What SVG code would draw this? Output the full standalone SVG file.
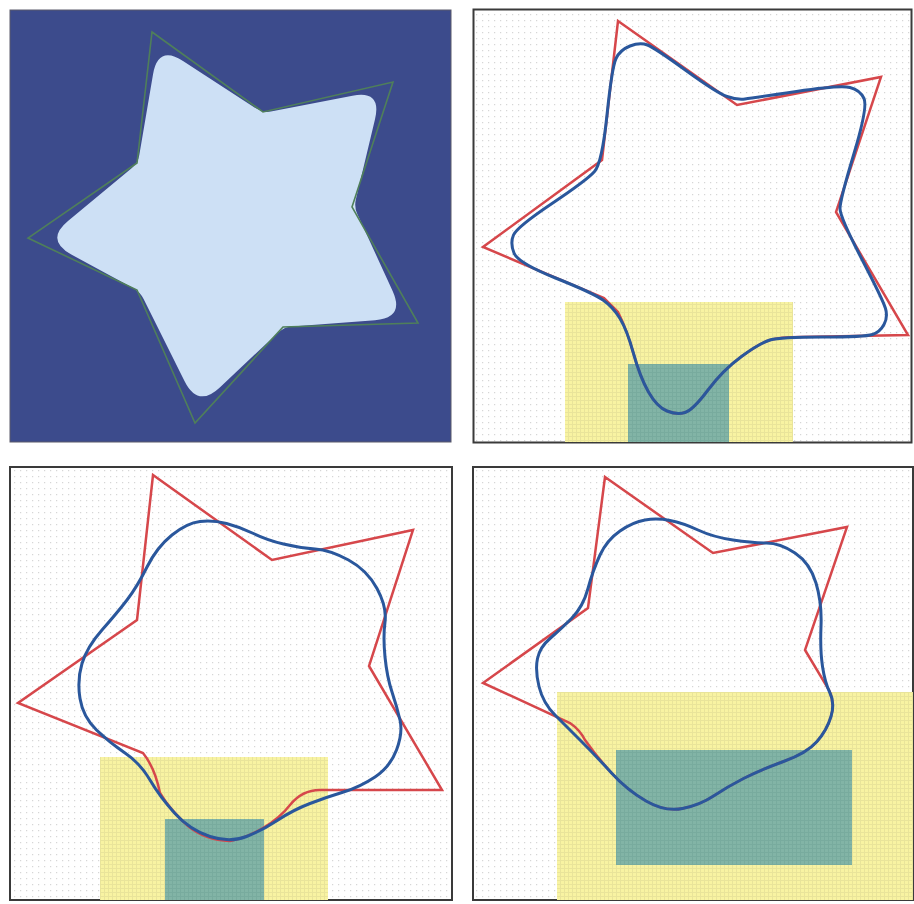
<svg xmlns="http://www.w3.org/2000/svg" width="914" height="904" viewBox="0 0 914 904">
<defs>
<pattern id="dots" width="6" height="6" patternUnits="userSpaceOnUse">
<rect width="6" height="6" fill="#ffffff"/>
<rect x="2" y="2" width="1.2" height="1.2" fill="#d6d6d6"/>
</pattern>
<pattern id="ygrid" width="4" height="4" patternUnits="userSpaceOnUse">
<rect width="4" height="4" fill="#f8f3a2"/>
<path d="M0 0.5H4M0.5 0V4" stroke="#e9e49a" stroke-width="1" fill="none"/>
</pattern>
<pattern id="tgrid" width="4" height="4" patternUnits="userSpaceOnUse">
<rect width="4" height="4" fill="#82b4a6"/>
<path d="M0 0.5H4M0.5 0V4" stroke="#78ab9e" stroke-width="1" fill="none"/>
</pattern>
</defs>
<style>
.frame{fill:url(#dots);stroke:#3a3a3a;stroke-width:2}
.yel{fill:url(#ygrid)}
.teal{fill:url(#tgrid)}
.red{fill:none;stroke:#d6474b;stroke-width:2.5;stroke-linejoin:miter}
.blue{fill:none;stroke:#2a579c;stroke-width:3;stroke-linejoin:round}
</style>
<rect width="914" height="904" fill="#ffffff"/>

<g id="panel1">
<rect x="10" y="10" width="441" height="432" fill="#3c4b8c" stroke="#5a5a6a" stroke-width="1"/>
<path d="M 153,74.5 Q 158,45 183,61 L 256.3,108.6 Q 263,113 270.9,111.5 L 352.5,95.7 Q 382,90 375,119.3 L 355.9,199.2 Q 354,207 357.4,214.3 L 392.5,290.7 Q 405,318 375,320.2 L 292,326.4 Q 284,327 278.2,332.5 L 219.8,387.4 Q 198,408 184.6,381.2 L 143.6,299.1 Q 140,292 133,288.1 L 71.3,254.4 Q 45,240 68,220.9 L 131.9,168.1 Q 138,163 139.3,155.1 Z" fill="#cde0f5"/>
<polygon points="152,32 263,112 393,82 352,207 418,323 283,327 195,423 137,290 28,238 137,163" fill="none" stroke="#4f7f5a" stroke-width="1.6"/>
</g>

<g id="panel2">
<rect class="frame" x="473.5" y="9.5" width="438" height="433"/>
<rect class="yel" x="565" y="302" width="228" height="140"/>
<rect class="teal" x="628" y="364" width="101" height="78"/>
<path class="red" d="M 618,21 L 737,105 L 881,77 L 836,212 L 908,335 L 800,337 Q 780,337 770,340 Q 760,343 741.5,356.5 Q 723,370 708,390 Q 693,410 685,412.5 Q 677,415 667,411 Q 657,407 648.5,392 Q 640,377 633.5,353.5 Q 627,330 618,312 L 604,298 L 483,247 L 602,160 Z"/>
<path class="blue" d="M 607,115 Q 612,67 616,58.5 Q 620,50 630,46 Q 640,42 647.5,45 Q 655,48 686,70.5 Q 717,93 727,96.5 Q 737,100 745,99 Q 753,98 796.5,91.5 Q 840,85 850,87.5 Q 860,90 864,98.5 Q 868,107 854,153.5 Q 840,200 840,208.5 Q 840,217 861.5,258.5 Q 883,300 885.5,308.5 Q 888,317 884,324.5 Q 880,332 872.5,334.5 Q 865,337 822.5,337 Q 780,337 770,340 Q 760,343 741.5,356.5 Q 723,370 708,390 Q 693,410 685,412.5 Q 677,415 667,411 Q 657,407 648.5,392 Q 640,377 633.5,353.5 Q 627,330 620,318.5 Q 613,307 603,300 Q 593,293 555.5,278 Q 518,263 514,253 Q 510,243 513.5,235 Q 517,227 552,203.5 Q 587,180 594.5,171.5 Q 602,163 607,115 Z"/>
</g>

<g id="panel3">
<rect class="frame" x="10" y="467" width="442" height="433"/>
<rect class="yel" x="100" y="757" width="228" height="143"/>
<rect class="teal" x="165" y="819" width="99" height="81"/>
<path class="red" d="M 153,475 L 272,560 L 413,530 L 369,666 L 442,790 L 320,790 Q 302,790 290,805 Q 280,818 263,828 Q 246,838 230,841 Q 205,840 188,826 Q 170,810 160,793 Q 155,768 143,753 L 18,703 L 137,620 Z"/>
<path class="blue" d="M 226.5,523.5 Q 213,520 200,521.5 Q 187,523 172,535 Q 157,547 147,567 Q 137,587 127,600 Q 117,613 102,630 Q 87,647 82,663.5 Q 77,680 80,698.5 Q 83,717 96.5,730 Q 110,743 125,753 Q 140,763 150,780 Q 160,797 175,813.5 Q 190,830 210,836.5 Q 230,843 246.5,836.5 Q 263,830 278,820 Q 293,810 310,803.5 Q 327,797 343.5,792 Q 360,787 375,777 Q 390,767 396.5,750 Q 403,733 400,720 Q 397,707 392,692 Q 387,677 385,657 Q 383,637 385,622 Q 387,607 377,588.5 Q 367,570 348.5,560 Q 330,550 315,549 Q 300,548 283.5,544 Q 267,540 253.5,533.5 Q 240,527 226.5,523.5 Z"/>
</g>

<g id="panel4">
<rect class="frame" x="473" y="467" width="440" height="433"/>
<rect class="yel" x="557" y="692" width="356" height="208"/>
<rect class="teal" x="616" y="750" width="236" height="115"/>
<path class="red" d="M 605,477 L 713,553 L 847,527 L 805,650 L 829,690 Q 835,703 831,716.5 Q 827,730 817,741.5 Q 807,753 783.5,761.5 Q 760,770 743.5,778.5 Q 727,787 713.5,796 Q 700,805 682.5,808.5 Q 665,812 646,801 Q 627,790 612,773.5 Q 597,757 585,740 Q 580,730 570,723 L 483,683 L 588,608 Z"/>
<path class="blue" d="M 670,520.5 Q 657,518 645,520 Q 633,522 620,531 Q 607,540 600,555 Q 593,570 588,588.5 Q 583,607 571.5,618.5 Q 560,630 550,638.5 Q 540,647 537.5,658.5 Q 535,670 539,686.5 Q 543,703 555,715 Q 567,727 582,742 Q 597,757 612,773.5 Q 627,790 646,801 Q 665,812 682.5,808.5 Q 700,805 713.5,796 Q 727,787 743.5,778.5 Q 760,770 783.5,761.5 Q 807,753 817,741.5 Q 827,730 831,716.5 Q 835,703 830,693 Q 825,683 822.5,666.5 Q 820,650 821,626.5 Q 822,603 816,583 Q 810,563 795,553 Q 780,543 766.5,543 Q 753,543 733,540 Q 713,537 698,530 Q 683,523 670,520.5 Z"/>
</g>
</svg>
